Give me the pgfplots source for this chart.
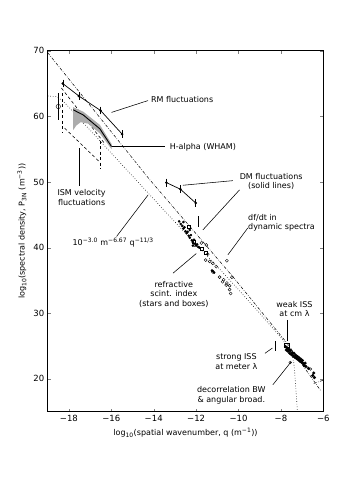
\documentclass[border=0pt]{standalone}
\usepackage{pgfplots}
\pgfplotsset{compat=1.18}
\usepackage{fontspec}
\setmainfont{DejaVu Sans}
\begin{document}
\begin{tikzpicture}[
  lbl/.style={font=\fontsize{8}{9.5}\selectfont, align=center, inner sep=1pt},
  ptr/.style={black, line width=0.55pt}]
\useasboundingbox (-47.7pt,-73.3pt) rectangle (294.3pt,411.7pt);
\begin{axis}[
  at={(0pt,0pt)}, anchor=south west,
  scale only axis, width=275.6pt, height=361pt,
  xmin=-19, xmax=-6, ymin=15, ymax=70,
  xtick={-18,-16,...,-6},
  xticklabels={−18,−16,−14,−12,−10,−8,−6},
  ytick={20,30,...,70},
  /pgf/number format/assume math mode=true,
  tick pos=both, tick align=inside, major tick length=3pt,
  tick label style={font=\fontsize{8.5}{10}\selectfont},
  label style={font=\fontsize{8}{10}\selectfont},
  xlabel={log\textsubscript{10}(spatial wavenumber, q (m\textsuperscript{−1}))},
  ylabel={log\textsubscript{10}(spectral density, P\textsubscript{3N} (m\textsuperscript{−3}))},
  axis line style={line width=0.6pt},
  error bars/error mark options={mark size=1.3pt, line width=0.5pt},
  error bars/error bar style={line width=0.5pt},
]
% power-law lines
\addplot[black, line width=0.5pt, dash pattern=on 3pt off 1.5pt on 0.6pt off 1.5pt]
  coordinates {(-19,69.7) (-14.2,50.4) (-10.3,35.7) (-7.7,25.4) (-6.1,18.1)};
\addplot[black, line width=0.5pt, dash pattern=on 3pt off 1.5pt on 0.6pt off 1.5pt]
  coordinates {(-6.45,19.3) (-6,19.8)};
\addplot[black, line width=0.6pt, dotted]
  coordinates {(-19,63.1) (-18.6,63.0) (-18.3,62.4) (-18.0,61.4) (-17.5,59.6) (-17,57.9)
  (-16,54.4) (-15,50.9) (-14,47.4) (-13,43.9) (-12,40.5) (-11,37.1) (-10,33.6)
  (-9,30.0) (-8,26.3) (-7.7,25.0) (-7.5,23.9) (-7.4,22.6) (-7.36,21.5) (-7.22,15)};
% ISM velocity fluctuations (dashed)
\addplot[black, line width=0.6pt, dash pattern=on 3pt off 2.5pt]
  coordinates {(-18.35,64.3) (-16.3,55.8)};
\addplot[black, line width=0.6pt, dash pattern=on 3pt off 2.5pt]
  coordinates {(-18.2,58.2) (-16.6,53.2)};
\addplot[black, line width=0.6pt, dash pattern=on 3pt off 2.5pt]
  coordinates {(-18.3,63.5) (-18.3,57.5)};
\addplot[black, line width=0.6pt, dash pattern=on 3pt off 2.5pt]
  coordinates {(-16.54,56.3) (-16.54,52.0)};
% H-alpha (WHAM) band
\addplot[fill=gray!65, draw=none]
  coordinates {(-17.80,61.4) (-17.32,60.7) (-16.54,58.7) (-15.99,55.8)
  (-15.99,55.0) (-16.54,57.4) (-17.1,58.9) (-17.45,59.1) (-17.65,58.6) (-17.80,57.9)} -- cycle;
\addplot[black, line width=0.9pt]
  coordinates {(-17.80,61.0) (-17.32,60.2) (-16.54,58.1) (-15.99,55.4)};
% circle at largest scale
\addplot[black, mark=o, mark size=2.2pt, only marks,
  error bars/.cd, y dir=both, y explicit, error mark=none]
  coordinates {(-18.5,61.5) +- (0,2.1)};
% RM fluctuations
\addplot[black, line width=0.7pt, mark=*, mark size=0.9pt,
  error bars/.cd, y dir=both, y explicit]
  coordinates {(-18.29,65.0) +- (0,0.4) (-17.53,63.1) +- (0,0.4)
  (-16.51,60.9) +- (0,0.4) (-15.49,57.3) +- (0,0.4)};
% DM fluctuations
\addplot[black, line width=0.7pt, mark=*, mark size=0.9pt,
  error bars/.cd, y dir=both, y explicit]
  coordinates {(-13.4,49.9) +- (0,0.4) (-12.74,48.9) +- (0,0.4) (-12.02,46.8) +- (0,0.4)};
% single error-bar markers
\addplot[black, mark=none, error bars/.cd, y dir=both, y explicit]
  coordinates {(-11.88,44.0) +- (0,0.6)};
\addplot[black, mark=none, error bars/.cd, y dir=both, y explicit]
  coordinates {(-8.26,25.0) +- (0,0.5)};
% refractive scintillation index (stars)
\addplot[black, only marks, mark=*, mark size=1.1pt]
  coordinates {(-12.8,44.0) (-12.72,43.6) (-12.65,43.3) (-12.6,42.9) (-12.55,43.1)
  (-12.5,42.5) (-12.45,42.2) (-12.4,42.4) (-12.35,41.8) (-12.3,41.5) (-12.25,41.9)
  (-12.2,41.1) (-12.15,40.8) (-12.1,41.2) (-12.05,40.6) (-12.0,40.3) (-11.95,40.5)
  (-11.9,40.1) (-11.85,40.0) (-12.3,42.7) (-12.6,43.9) (-12.15,40.3)
  (-11.2,36.4) (-11.15,36.2) (-11.25,36.5)};
% boxes
\addplot[black, only marks, mark=square, mark size=1.3pt]
  coordinates {(-12.35,43.2) (-12.1,40.9) (-11.75,39.8) (-11.55,39.2)};
% df/dt circles
\addplot[black, only marks, mark=o, mark size=1.5pt]
  coordinates {(-11.75,40.7) (-11.52,40.4) (-11.55,38.1) (-11.36,37.9) (-11.21,37.6)
  (-11.05,37.1) (-11.21,36.3) (-10.89,35.5) (-10.7,35.1) (-10.55,34.6)
  (-10.42,34.2) (-10.42,33.6) (-10.37,33.0) (-10.58,34.3) (-10.31,35.5)
  (-10.75,34.8) (-10.55,38.0) (-12.07,40.4) (-11.45,39.0)};
% weak ISS at cm
\addplot[black, only marks, mark=square, mark size=2.2pt]
  coordinates {(-7.72,25.1)};
\addplot[black, only marks, mark=*, mark size=1.4pt]
  coordinates {(-7.78,24.9) (-7.74,24.4) (-7.7,24.7) (-7.66,24.2) (-7.62,24.5)
  (-7.58,23.9) (-7.55,24.3) (-7.5,23.7) (-7.46,24.0) (-7.42,23.5) (-7.38,23.9)
  (-7.34,23.3) (-7.3,23.6) (-7.26,23.1) (-7.22,23.4) (-7.18,22.9) (-7.14,23.2)
  (-7.1,22.7) (-7.06,23.0) (-7.02,22.5) (-6.98,22.8) (-6.94,22.3) (-6.9,22.0)
  (-6.86,22.4) (-6.82,21.9) (-6.7,21.6) (-6.5,20.5) (-6.45,20.9) (-6.42,20.2)};
\addplot[black, only marks, mark=o, mark size=1.3pt]
  coordinates {(-7.56,22.5) (-6.6,21.5)};
% labels and pointers
\node[lbl] at (axis cs:-12.66,62.5) {RM fluctuations};
\draw[ptr] (axis cs:-14.27,62.4) -- (axis cs:-15.99,60.6);
\node[lbl] at (axis cs:-11.68,55.3) {H-alpha (WHAM)};
\draw[ptr] (axis cs:-13.48,55.4) -- (axis cs:-15.99,55.4);
\node[lbl] at (axis cs:-8.46,50.05) {DM fluctuations\\(solid lines)};
\draw[ptr] (axis cs:-10.27,50.2) -- (axis cs:-12.62,49.5);
\draw[ptr] (axis cs:-9.95,48.8) -- (axis cs:-11.68,42.7);
\node[lbl, align=left, anchor=west] at (axis cs:-9.6,43.75) {df/dt in\\dynamic spectra};
\draw[ptr] (axis cs:-9.56,43.0) -- (axis cs:-10.5,38.9);
\node[lbl] at (axis cs:-15.91,40.7) {10\textsuperscript{−3.0} m\textsuperscript{−6.67} q\textsuperscript{−11/3}};
\draw[ptr] (axis cs:-15.75,41.7) -- (axis cs:-14.27,48.0);
\node[lbl] at (axis cs:-13.05,32.9) {refractive\\scint. index\\(stars and boxes)};
\draw[ptr] (axis cs:-13.09,36.1) -- (axis cs:-11.99,39.1);
\node[lbl] at (axis cs:-7.36,30.65) {weak ISS\\at cm λ};
\draw[ptr] (axis cs:-7.72,29.0) -- (axis cs:-7.72,25.7);
\node[lbl] at (axis cs:-10.1,22.65) {strong ISS\\at meter λ};
\draw[ptr] (axis cs:-8.75,23.9) -- (axis cs:-8.4,24.7);
\node[lbl] at (axis cs:-10.34,17.5) {decorrelation BW\\\& angular broad.};
\draw[ptr] (axis cs:-8.38,19.1) -- (axis cs:-7.52,22.6);
\node[lbl] at (axis cs:-17.4,47.65) {ISM velocity\\fluctuations};
\draw[ptr] (axis cs:-17.51,49.4) -- (axis cs:-17.51,55.2);
\end{axis}
\end{tikzpicture}
\end{document}
